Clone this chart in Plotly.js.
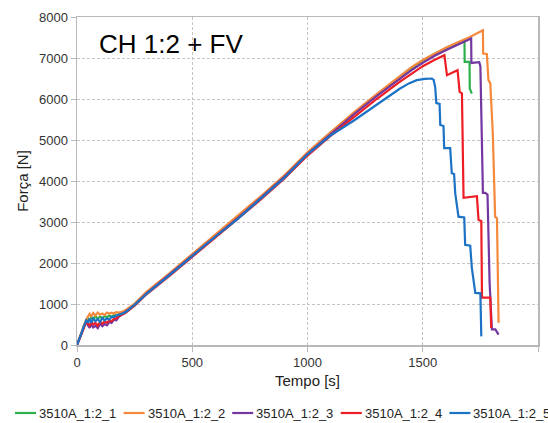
<!DOCTYPE html>
<html>
<head>
<meta charset="utf-8">
<script src="https://cdn.plot.ly/plotly-3.0.1.min.js"></script>
<style>html,body{margin:0;padding:0;background:#fff;}#chart{width:548px;height:423px;}</style>
</head>
<body>
<div id="chart"></div>
<script>
const seriesNames = ['3510A_1:2_1','3510A_1:2_2','3510A_1:2_3','3510A_1:2_4','3510A_1:2_5'];
const seriesColors = ['#2BB04A','#F5883A','#7437A2','#EE1D24','#1C72C4'];

const t1 = [0,10,20,30,40,48,55,62,70,80,90,100,110,120,130,140,150,160,170,180,195,210,250,300,400,500,600,700,800,900,1000,1100,1200,1300,1400,1450,1500,1550,1600,1640,1681,1682,1703,1704,1710,1713];
const f1 = [0,140,300,470,600,650,600,680,620,700,640,690,650,700,680,720,690,730,720,750,770,810,990,1260,1730,2210,2670,3130,3620,4130,4690,5180,5650,6100,6540,6750,6930,7100,7240,7340,7430,6905,6905,6250,6170,6130];

const t2 = [0,10,20,30,40,48,55,62,70,80,90,100,110,120,130,140,150,160,170,180,195,210,250,300,400,500,600,700,800,900,1000,1100,1200,1300,1400,1450,1500,1550,1600,1650,1700,1761,1762,1778,1785,1793,1804,1814,1822,1829];
const f2 = [0,150,320,490,620,700,760,690,780,720,790,740,770,730,790,760,790,770,800,790,810,850,1010,1290,1740,2220,2690,3150,3640,4140,4700,5190,5670,6120,6560,6770,6950,7110,7250,7380,7500,7676,7110,7100,6460,6380,5160,3130,3090,540];

const t3 = [0,10,20,30,40,48,55,62,70,80,90,100,110,120,130,140,150,160,170,180,195,210,250,300,400,500,600,700,800,900,1000,1100,1200,1300,1400,1450,1500,1550,1600,1650,1710,1711,1745,1750,1761,1771,1781,1790,1800,1815,1829];
const f3 = [0,130,280,440,560,480,420,500,430,470,410,520,460,510,480,560,540,620,600,680,740,790,970,1250,1710,2190,2650,3110,3600,4100,4660,5150,5620,6070,6500,6700,6880,7050,7190,7320,7474,6880,6900,6800,3710,3710,3670,1520,380,380,255];

const t4 = [0,10,20,30,40,48,55,62,70,80,90,100,110,120,130,140,150,160,170,180,195,210,250,300,400,500,600,700,800,900,1000,1100,1200,1300,1400,1450,1500,1550,1594,1605,1651,1660,1670,1677,1735,1742,1754,1757,1793,1797];
const f4 = [0,140,290,450,560,520,480,560,500,540,470,560,520,580,540,600,580,640,650,700,750,780,960,1230,1680,2150,2610,3070,3560,4060,4620,5100,5560,6000,6420,6620,6800,6950,7068,6582,6703,6175,6140,3590,3630,3054,3020,1155,1155,418];

const t5 = [0,10,20,30,40,48,55,62,70,80,90,100,110,120,130,140,150,160,170,180,195,210,250,300,400,500,600,700,800,900,1000,1100,1200,1250,1300,1350,1400,1440,1474,1510,1539,1547,1554,1559,1573,1576,1590,1593,1619,1626,1636,1641,1655,1680,1684,1706,1713,1728,1750,1754];
const f5 = [0,150,310,470,600,560,640,540,650,580,630,560,660,600,650,620,690,680,720,730,770,800,980,1240,1700,2180,2640,3090,3580,4080,4650,5110,5470,5670,5860,6060,6250,6380,6460,6490,6500,6470,6290,5900,5880,5365,5340,4800,4800,4190,4170,3700,3130,3110,2445,2420,1880,1270,1260,210];

const xTicks = [0,500,1000,1500,2000];
const yTicks = [0,1000,2000,3000,4000,5000,6000,7000,8000];
const chartLabel = 'CH 1:2 + FV';
const xTitle = 'Tempo [s]';
const yTitle = 'Força [N]';

const xs = [t1,t2,t3,t4,t5];
const ys = [f1,f2,f3,f4,f5];

const traces = xs.map((x,i) => ({
  type:'scatter', mode:'lines', x:x, y:ys[i], name:seriesNames[i],
  line:{color:seriesColors[i], width:2.2}
}));

// plot area in px
const L = 77, R = 538, T = 17, B = 345;
const W = R - L, H = B - T;
const px2x = p => (p - L) / W;
const py2y = p => (B - p) / H;

const shapes = [];
const annotations = [{
  xref:'paper', yref:'paper', x:px2x(97), y:py2y(44), xanchor:'left', yanchor:'middle',
  text:chartLabel, showarrow:false, font:{size:26, color:'#000'}
}];
const legY = py2y(413);
seriesNames.forEach((n,i) => {
  const s = 15 + i*108.6;
  shapes.push({type:'line', xref:'paper', yref:'paper', x0:px2x(s), x1:px2x(s+21), y0:legY, y1:legY,
    line:{color:seriesColors[i], width:2.2}});
  annotations.push({xref:'paper', yref:'paper', x:px2x(s+22), y:legY, xanchor:'left', yanchor:'middle',
    text:n, showarrow:false, font:{size:13, color:'#222'}});
});

const axisCommon = {
  showgrid:true, gridcolor:'#c4c4c4', griddash:'3px,2px', gridwidth:1,
  showline:true, mirror:true, linecolor:'#b8b8b8', linewidth:1.5,
  ticks:'outside', ticklen:5, tickcolor:'#b8b8b8', tickwidth:1,
  zeroline:false, tickfont:{size:13, color:'#333'}, automargin:false
};

const layout = {
  width:548, height:423,
  margin:{l:L, r:548-R, t:T, b:423-B},
  paper_bgcolor:'#fff', plot_bgcolor:'#fff',
  font:{family:"'Liberation Sans', Arial, sans-serif", color:'#333', size:13},
  showlegend:false,
  xaxis:Object.assign({}, axisCommon, {range:[0,2000], tickvals:xTicks,
    title:{text:xTitle, font:{size:15, color:'#222'}, standoff:6}}),
  yaxis:Object.assign({}, axisCommon, {range:[0,8000], tickvals:yTicks,
    title:{text:yTitle, font:{size:15, color:'#222'}, standoff:6}}),
  shapes:shapes,
  annotations:annotations
};

Plotly.newPlot('chart', traces, layout, {staticPlot:true, displayModeBar:false});
</script>
</body>
</html>
